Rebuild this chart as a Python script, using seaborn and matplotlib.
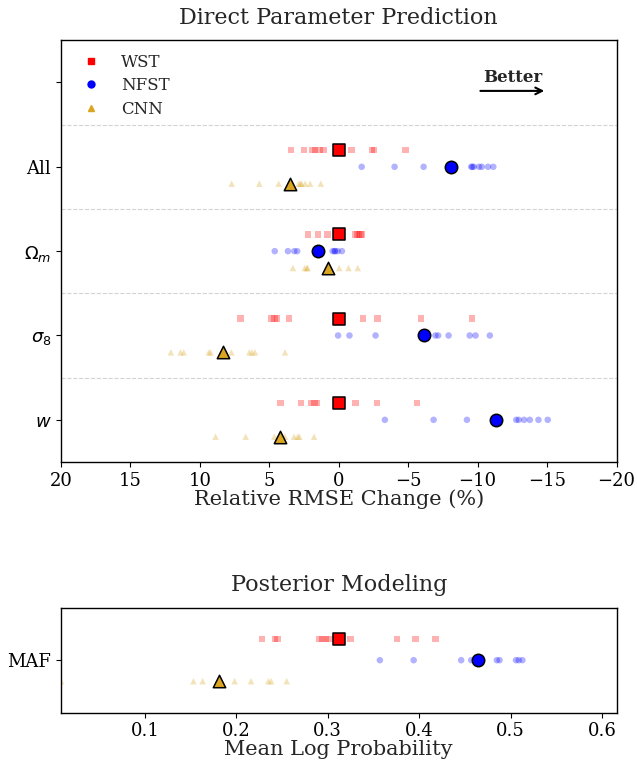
import numpy as np
import pandas as pd
import matplotlib
matplotlib.use("Agg")
import matplotlib.pyplot as plt
import seaborn as sns
from matplotlib.lines import Line2D

# ---------------- data ----------------
rows = ["All", r"$\Omega_m$", r"$\sigma_8$", r"$w$"]
methods = ["WST", "NFST", "CNN"]

# individual runs, relative RMSE change (%)
wst_all = [3.45, 2.5, 1.9, 1.7, 1.4, 1.1, -0.9, -2.4, -2.55, -4.8]
wst_om = [2.22, 1.49, 0.82, -1.16, -1.3, -1.45, -1.55, -1.68]
wst_s8 = [7.06, 4.85, 4.64, 4.46, 3.58, -1.73, -2.78, -5.93, -9.59]
wst_w = [4.2, 2.73, 2.01, 1.75, 1.57, -1.19, -2.76, -5.62]

nfst_all = [-1.65, -4.02, -6.11, -9.54, -9.62, -9.72, -10.1, -10.3, -10.75, -11.13]
nfst_om = [4.61, 3.66, 3.2, 2.99, 0.44, 0.3, 0.26, 0.08, -0.23]
nfst_s8 = [0.05, -0.77, -2.65, -6.96, -7.16, -7.91, -9.43, -9.85, -10.88]
nfst_w = [-3.32, -6.83, -9.23, -12.78, -12.96, -13.35, -13.76, -14.38, -15.05]

cnn_all = [7.71, 5.72, 4.33, 2.89, 2.75, 2.68, 2.42, 2.06, 1.29]
cnn_om = [3.3, 2.45, 2.3, 2.24, -0.03, -0.7, -1.37]
cnn_s8 = [12.09, 11.39, 11.16, 9.36, 9.23, 7.73, 6.44, 6.24, 6.03, 3.87]
cnn_w = [8.87, 6.7, 4.64, 3.87, 3.22, 2.96, 2.84, 1.78]

# averages (large markers)
wst_mean = [0.0, 0.0, 0.0, 0.0]
nfst_mean = [-8.09, 1.49, -6.13, -11.29]
cnn_mean = [3.53, 0.8, 8.35, 4.2]

# posterior modeling: mean log probability
maf_wst = [0.228, 0.242, 0.245, 0.291, 0.294, 0.298, 0.302, 0.325, 0.376, 0.396, 0.418]
maf_nfst = [0.357, 0.394, 0.446, 0.457, 0.485, 0.488, 0.506, 0.509, 0.513]
maf_cnn = [0.008, 0.153, 0.163, 0.198, 0.216, 0.235, 0.238, 0.255]
maf_wst_mean = 0.3125
maf_nfst_mean = 0.464
maf_cnn_mean = 0.181

# ---------------- build tables ----------------
runs = {
    "WST": [wst_all, wst_om, wst_s8, wst_w],
    "NFST": [nfst_all, nfst_om, nfst_s8, nfst_w],
    "CNN": [cnn_all, cnn_om, cnn_s8, cnn_w],
}
means = {"WST": wst_mean, "NFST": nfst_mean, "CNN": cnn_mean}
offset = {"WST": -0.2, "NFST": 0.0, "CNN": 0.2}
colors = {"WST": "red", "NFST": "blue", "CNN": "goldenrod"}
markers = {"WST": "s", "NFST": "o", "CNN": "^"}

recs, mrecs = [], []
for m in methods:
    for i, r in enumerate(rows):
        for v in runs[m][i]:
            recs.append(dict(method=m, row=r, value=v, y=i + 1 + offset[m]))
        mrecs.append(dict(method=m, row=r, value=means[m][i], y=i + 1 + offset[m]))
df = pd.DataFrame(recs)
dfm = pd.DataFrame(mrecs)

maf_runs = {"WST": maf_wst, "NFST": maf_nfst, "CNN": maf_cnn}
maf_means = {"WST": maf_wst_mean, "NFST": maf_nfst_mean, "CNN": maf_cnn_mean}
brecs, bmrecs = [], []
for m in methods:
    for v in maf_runs[m]:
        brecs.append(dict(method=m, value=v, y=offset[m]))
    bmrecs.append(dict(method=m, value=maf_means[m], y=offset[m]))
dfb = pd.DataFrame(brecs)
dfbm = pd.DataFrame(bmrecs)

# ---------------- style ----------------
sns.set_theme(style="ticks")
plt.rcParams["font.family"] = ["DejaVu Serif"]
plt.rcParams["mathtext.fontset"] = "dejavusans"
plt.rcParams["axes.edgecolor"] = "black"
plt.rcParams["axes.linewidth"] = 1.0
plt.rcParams["xtick.color"] = "black"
plt.rcParams["ytick.color"] = "black"
for a in ["xtick", "ytick"]:
    plt.rcParams[f"{a}.major.size"] = 3.5
    plt.rcParams[f"{a}.major.width"] = 0.8
    plt.rcParams[f"{a}.major.pad"] = 3.5

fig = plt.figure(figsize=(6.37, 7.62), dpi=100)
ax = fig.add_axes([61 / 637, 1 - 462 / 762, (616.5 - 61) / 637, (462 - 40.3) / 762])
ax2 = fig.add_axes([61 / 637, 1 - 712.7 / 762, (616.5 - 61) / 637, (712.7 - 607.7) / 762])

for m in methods:
    sub = df[df.method == m]
    sns.scatterplot(data=sub, x="value", y="y", ax=ax, color=colors[m], marker=markers[m],
                    s=22, alpha=0.3, edgecolor="none", legend=False, zorder=2)
    subm = dfm[dfm.method == m]
    sns.scatterplot(data=subm, x="value", y="y", ax=ax, color=colors[m], marker=markers[m],
                    s=80, edgecolor="black", linewidth=1.1, legend=False, zorder=3)

    sb = dfb[dfb.method == m]
    sns.scatterplot(data=sb, x="value", y="y", ax=ax2, color=colors[m], marker=markers[m],
                    s=22, alpha=0.3, edgecolor="none", legend=False, zorder=2)
    sbm = dfbm[dfbm.method == m]
    sns.scatterplot(data=sbm, x="value", y="y", ax=ax2, color=colors[m], marker=markers[m],
                    s=80, edgecolor="black", linewidth=1.1, legend=False, zorder=3)

# top axes formatting
ax.set_xlim(20, -20)
ax.set_ylim(4.5, -0.5)
ax.set_xticks([20, 15, 10, 5, 0, -5, -10, -15, -20])
ax.set_yticks([0, 1, 2, 3, 4])
ax.set_yticklabels([""] + rows)
ax.tick_params(axis="both", labelsize=13)
for yy in [0.5, 1.5, 2.5, 3.5]:
    ax.axhline(yy, color="lightgray", linestyle="--", linewidth=0.8, zorder=1)
ax.set_xlabel("Relative RMSE Change (%)", fontsize=15, labelpad=0)
ax.set_ylabel("")
ax.set_title("Direct Parameter Prediction", fontsize=16, pad=12)

handles = [Line2D([], [], linestyle="none", marker=markers[m], color=colors[m], markersize=5)
           for m in methods]
ax.legend(handles, methods, loc="upper left", frameon=False, fontsize=12,
          labelspacing=0.4, handletextpad=0.8, borderaxespad=0.4)

ax.annotate("", xy=(-15, 0.1), xytext=(-10, 0.1),
            arrowprops=dict(arrowstyle="->", color="black", lw=1.5))
ax.text(-12.5, -0.06, "Better", ha="center", va="center", fontsize=12, fontweight="bold")

# bottom axes formatting
ax2.set_xlim(0.008, 0.616)
ax2.set_ylim(0.5, -0.5)
ax2.set_xticks([0.1, 0.2, 0.3, 0.4, 0.5, 0.6])
ax2.set_xticklabels(["0.1", "0.2", "0.3", "0.4", "0.5", "0.6"])
ax2.set_yticks([0])
ax2.set_yticklabels(["MAF"])
ax2.tick_params(axis="both", labelsize=13)
ax2.set_xlabel("Mean Log Probability", fontsize=15, labelpad=0)
ax2.set_ylabel("")
ax2.set_title("Posterior Modeling", fontsize=16, pad=12)

fig.savefig("out.png", dpi=100)
